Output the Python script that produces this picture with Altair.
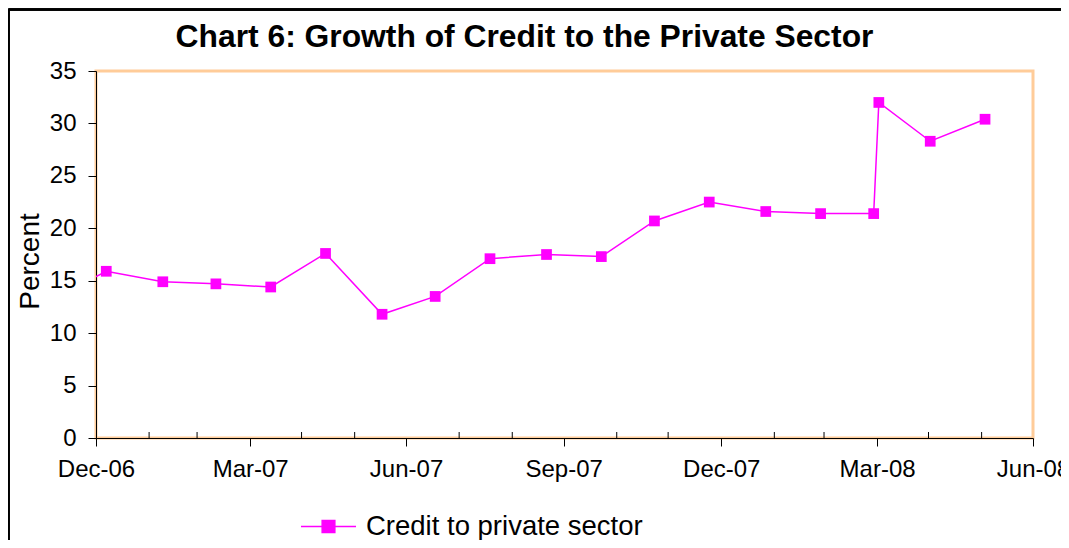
import altair as alt
import pandas as pd

# ---- data ----
dates = ["2006-12-05", "2007-01-06", "2007-02-08", "2007-03-11", "2007-04-12",
         "2007-05-14", "2007-06-16", "2007-07-17", "2007-08-18", "2007-09-20",
         "2007-10-22", "2007-11-22", "2007-12-24", "2008-01-26", "2008-02-27",
         "2008-03-29", "2008-04-01", "2008-05-01", "2008-06-02"]
credit = [13.2, 15.9, 14.9, 14.7, 14.4,
          17.6, 11.8, 13.5, 17.1, 17.5,
          17.3, 20.7, 22.5, 21.6, 21.4,
          21.4, 32.0, 28.3, 30.4]
series_name = "Credit to private sector"

major_ticks = [(2006, 12, 31), (2007, 3, 31), (2007, 6, 30), (2007, 9, 30),
               (2007, 12, 31), (2008, 3, 31), (2008, 6, 30)]
minor_ticks = ["2007-01-31", "2007-02-28", "2007-04-30", "2007-05-31",
               "2007-07-31", "2007-08-31", "2007-10-31", "2007-11-30",
               "2008-01-31", "2008-02-29", "2008-04-30", "2008-05-31"]
y_ticks = [0, 5, 10, 15, 20, 25, 30, 35]

FONT = "Liberation Sans"
MAGENTA = "#FF00FF"
W, H = 937, 367

df = pd.DataFrame({"date": dates, "value": credit, "series": series_name})
df_minor = pd.DataFrame({"d": minor_ticks})

def dt(t):
    return alt.DateTime(year=t[0], month=t[1], date=t[2], utc=True)

xscale = alt.Scale(type="utc", domain=[dt(major_ticks[0]), dt(major_ticks[-1])])
yscale = alt.Scale(domain=[0, 35], nice=False)

x_axis = alt.Axis(values=[dt(t) for t in major_ticks], format="%b-%y",
                  labelFont=FONT, labelFontSize=24, labelColor="black",
                  labelPadding=11, tickSize=8, tickColor="black",
                  domainColor="black", domainWidth=1, grid=False, title=None,
                  labelOverlap=False, labelFlush=False)
y_axis = alt.Axis(values=y_ticks, labelFont=FONT, labelFontSize=24,
                  labelColor="black", labelPadding=12, tickSize=8,
                  tickColor="black", domainColor="black", grid=False,
                  title="Percent", titleFont=FONT, titleFontSize=28,
                  titleFontWeight="normal", titleColor="black", titlePadding=5,
                  titleY=190)

line = alt.Chart(df).mark_line(color=MAGENTA, strokeWidth=1.5, clip=True).encode(
    x=alt.X("date:T", scale=xscale, axis=x_axis),
    y=alt.Y("value:Q", scale=yscale, axis=y_axis),
)

points = alt.Chart(df).mark_point(shape="square", filled=True, size=115,
                                  opacity=1, clip=True).encode(
    x=alt.X("date:T", scale=xscale),
    y=alt.Y("value:Q", scale=yscale),
    color=alt.Color("series:N", scale=alt.Scale(range=[MAGENTA]),
                    legend=alt.Legend(title=None, orient="none", legendX=204,
                                      legendY=427, padding=0,
                                      symbolType="M-1,0H1M-0.23,-0.22H0.23V0.22H-0.23Z",
                                      symbolSize=3025, symbolStrokeWidth=1.5,
                                      symbolFillColor=MAGENTA,
                                      symbolStrokeColor=MAGENTA,
                                      labelFont=FONT, labelFontSize=27.5,
                                      labelColor="black", labelOffset=9,
                                      labelLimit=600)),
)

minor = alt.Chart(df_minor).mark_rule(color="black", strokeWidth=1).encode(
    x=alt.X("d:T", scale=xscale),
    y=alt.value(H),
    y2=alt.value(H - 6),
)

frame_left = alt.Chart(df_minor).mark_rule(color="black", strokeWidth=1.5).encode(
    x=alt.value(-87.5), y=alt.value(-61.5), y2=alt.value(H + 200))
frame_top = alt.Chart(df_minor).mark_rule(color="black", strokeWidth=1.5).encode(
    x=alt.value(-87.5), x2=alt.value(W + 100), y=alt.value(-61.5))

chart = alt.layer(frame_left, frame_top, minor, line, points).properties(
    width=W, height=H,
    background="white",
    autosize=alt.AutoSizeParams(type="none"),
    padding={"left": 88, "top": 63, "right": 28, "bottom": 102},
    title=alt.TitleParams("Chart 6: Growth of Credit to the Private Sector",
                          font=FONT, fontSize=31.8, fontWeight="bold",
                          color="black", anchor="middle", frame="group",
                          baseline="alphabetic", offset=24, dx=-40, dy=94),
).configure_view(stroke="#FFCC99", strokeWidth=3, fill="white")

chart.save("out.html", embed_options={"renderer": "svg", "actions": False})
